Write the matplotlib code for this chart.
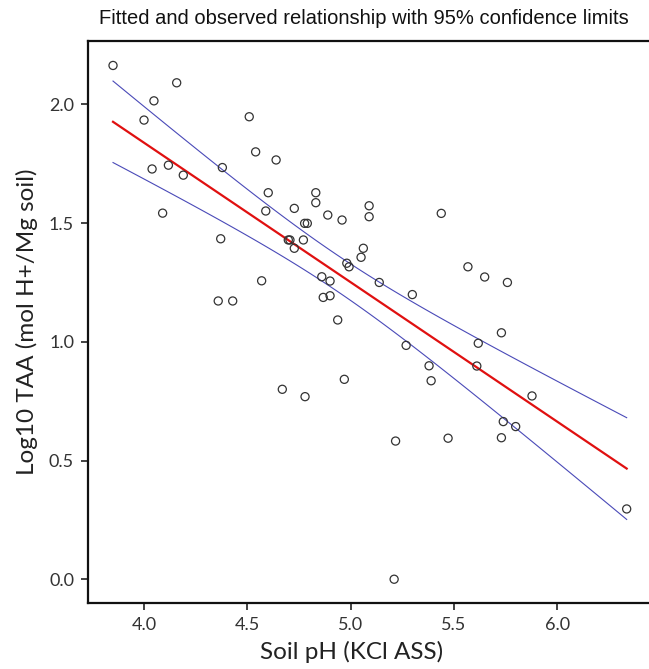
import numpy as np
import matplotlib
matplotlib.use("Agg")
import matplotlib.pyplot as plt

# observed points
soil_ph = [3.85, 4.048, 4.158, 4.00, 4.039, 4.118, 4.19, 4.09, 4.379, 4.371,
           4.509, 4.54, 4.639, 4.601, 4.589, 4.569, 4.359, 4.429, 4.669,
           4.831, 4.831, 4.727, 4.777, 4.79, 4.889, 4.958, 5.089, 5.089,
           5.438, 4.698, 4.706, 4.727, 4.771, 5.061, 5.05, 4.981, 4.992,
           4.86, 4.90, 5.138, 5.298, 4.867, 4.90, 4.937, 5.268, 5.379,
           5.389, 4.779, 4.969, 5.217, 5.471, 5.567, 5.648, 5.758, 5.729,
           5.617, 5.61, 5.877, 5.738, 5.798, 5.729, 6.335, 5.21]
log_taa = [2.164, 2.015, 2.091, 1.934, 1.728, 1.744, 1.702, 1.542, 1.734, 1.434,
           1.948, 1.80, 1.766, 1.628, 1.551, 1.257, 1.172, 1.172, 0.80,
           1.628, 1.586, 1.562, 1.499, 1.499, 1.534, 1.513, 1.573, 1.527,
           1.541, 1.429, 1.429, 1.394, 1.429, 1.394, 1.356, 1.331, 1.316,
           1.274, 1.256, 1.25, 1.199, 1.187, 1.194, 1.092, 0.985, 0.899,
           0.836, 0.769, 0.842, 0.582, 0.594, 1.316, 1.273, 1.25, 1.038,
           0.994, 0.898, 0.772, 0.664, 0.643, 0.596, 0.296, 0.0]

x_ticks = [4.0, 4.5, 5.0, 5.5, 6.0]
y_ticks = [0.0, 0.5, 1.0, 1.5, 2.0]

# least squares fit with 95% confidence limits for the mean
x = np.array(soil_ph)
y = np.array(log_taa)
n = len(x)
slope, intercept = np.polyfit(x, y, 1)
resid = y - (intercept + slope * x)
s = np.sqrt(np.sum(resid ** 2) / (n - 2))
sxx = np.sum((x - x.mean()) ** 2)
t_crit = 2.0  # t(0.975, n-2) for n around 60
xs = np.linspace(x.min(), x.max(), 100)
ys = intercept + slope * xs
half = t_crit * s * np.sqrt(1 / n + (xs - x.mean()) ** 2 / sxx)

fig = plt.figure(figsize=(6.49, 6.69), dpi=100)
ax = fig.add_axes([0.1356, 0.0987, 0.8644, 0.84])

ax.plot(xs, ys + half, color='#4a4ab8', linewidth=0.8, zorder=2)
ax.plot(xs, ys - half, color='#4a4ab8', linewidth=0.8, zorder=2)
ax.plot(xs, ys, color='#e01010', linewidth=1.6, zorder=3)
ax.scatter(soil_ph, log_taa, s=34, facecolors='none', edgecolors='#333333',
           linewidths=0.9, zorder=4)

ax.set_xlim(3.729, 6.443)
ax.set_ylim(-0.1, 2.267)
ax.set_xticks(x_ticks)
ax.set_yticks(y_ticks)
ax.set_xticklabels([f'{v:.1f}' for v in x_ticks])
ax.set_yticklabels([f'{v:.1f}' for v in y_ticks])

lab_font = ['Lato', 'DejaVu Sans']
ax.tick_params(direction='out', length=5, width=1.2, color='#222222',
               labelsize=13, labelcolor='#333333', pad=5)
for lab in ax.get_xticklabels() + ax.get_yticklabels():
    lab.set_family(lab_font)

ax.set_xlabel('Soil pH (KCl ASS)', fontsize=17.5, family=lab_font, color='#222222')
ax.set_ylabel('Log10 TAA (mol H+/Mg soil)', fontsize=17.5, family=lab_font, color='#222222')
ax.xaxis.set_label_coords(0.47, -0.068)
ax.yaxis.set_label_coords(-0.09, 0.5)

for side in ['left', 'bottom', 'top']:
    ax.spines[side].set_linewidth(1.6)
    ax.spines[side].set_color('#111111')
ax.spines['right'].set_visible(False)

fig.text(0.56, 0.973, 'Fitted and observed relationship with 95% confidence limits',
         ha='center', va='center', fontsize=14.5, family=['Liberation Sans', 'DejaVu Sans'],
         color='#111111')

fig.savefig('out.png', dpi=100)
